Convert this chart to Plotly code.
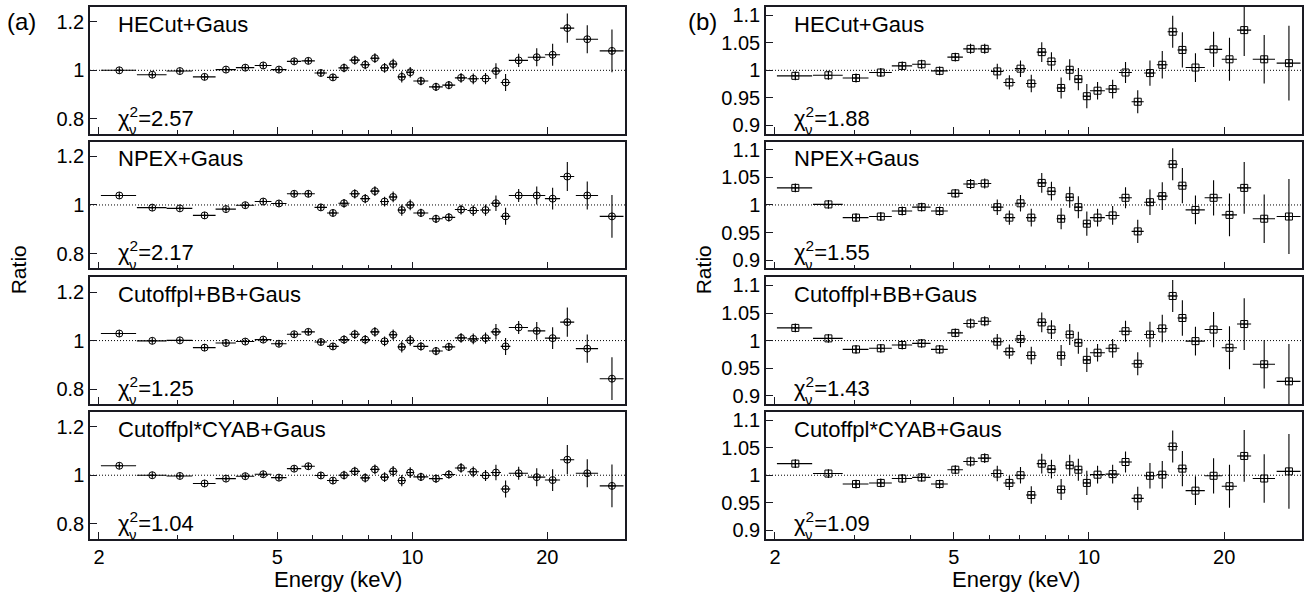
import math
import plotly.graph_objects as go
from plotly.subplots import make_subplots

# ---- data -------------------------------------------------------------
# energy bin centres and half widths (keV)
energy = [2.22, 2.63, 3.03, 3.44, 3.84, 4.24, 4.65, 5.04, 5.45, 5.86,
          6.25, 6.65, 7.04, 7.44, 7.85, 8.25, 8.67, 9.06, 9.47, 9.89,
          10.45, 11.29, 12.06, 12.84, 13.67, 14.56, 15.36, 16.14, 17.26, 18.94,
          20.55, 22.16, 24.55, 27.87]
energy_hw = [0.2, 0.2, 0.2, 0.2, 0.2, 0.2, 0.2, 0.2, 0.2, 0.2,
             0.2, 0.2, 0.2, 0.2, 0.2, 0.2, 0.2, 0.2, 0.2, 0.2,
             0.4, 0.4, 0.4, 0.4, 0.4, 0.4, 0.4, 0.4, 0.85, 0.85,
             0.8, 0.8, 1.4, 1.7]

# 1-sigma ratio uncertainties, panel (a) and panel (b)
err_a = [0.006, 0.006, 0.006, 0.007, 0.007, 0.008, 0.008, 0.009, 0.010, 0.011,
         0.012, 0.013, 0.018, 0.019, 0.019, 0.020, 0.020, 0.022, 0.023, 0.022,
         0.017, 0.017, 0.017, 0.020, 0.022, 0.023, 0.032, 0.035, 0.027, 0.037,
         0.045, 0.060, 0.058, 0.088]
err_b = [0.008, 0.008, 0.008, 0.008, 0.008, 0.008, 0.008, 0.008, 0.009, 0.009,
         0.014, 0.013, 0.015, 0.016, 0.018, 0.017, 0.019, 0.019, 0.020, 0.022,
         0.016, 0.017, 0.019, 0.021, 0.023, 0.025, 0.029, 0.032, 0.026, 0.032,
         0.039, 0.047, 0.044, 0.068]

# data/model ratios, panel (a)
ratio_a_hecut = [1.000, 0.982, 0.997, 0.973, 1.003, 1.011, 1.020, 1.003, 1.037, 1.039,
                 0.989, 0.971, 1.010, 1.042, 1.023, 1.050, 1.010, 1.026, 0.973, 0.992,
                 0.956, 0.932, 0.939, 0.969, 0.965, 0.966, 0.997, 0.950, 1.041, 1.054,
                 1.064, 1.174, 1.128, 1.080]
ratio_a_npex = [1.039, 0.989, 0.986, 0.957, 0.983, 0.999, 1.014, 1.006, 1.046, 1.046,
                0.990, 0.967, 1.007, 1.046, 1.026, 1.057, 1.014, 1.033, 0.979, 1.000,
                0.967, 0.943, 0.949, 0.981, 0.977, 0.979, 1.007, 0.953, 1.039, 1.039,
                1.026, 1.117, 1.039, 0.953]
ratio_a_bb = [1.029, 0.999, 1.001, 0.971, 0.990, 0.996, 1.004, 0.987, 1.026, 1.036,
              0.994, 0.976, 1.004, 1.026, 1.004, 1.036, 0.997, 1.024, 0.974, 1.001,
              0.976, 0.957, 0.974, 1.011, 1.007, 1.010, 1.036, 0.976, 1.054, 1.040,
              1.010, 1.076, 0.967, 0.843]
ratio_a_cyab = [1.039, 1.000, 0.997, 0.966, 0.986, 0.996, 1.004, 0.990, 1.027, 1.037,
                0.999, 0.978, 1.000, 1.016, 0.989, 1.024, 0.992, 1.016, 0.978, 1.011,
                0.993, 0.986, 1.003, 1.030, 1.014, 0.999, 1.011, 0.943, 1.008, 0.992,
                0.980, 1.064, 1.008, 0.956]

# data/model ratios, panel (b)
ratio_b_hecut = [0.990, 0.991, 0.986, 0.996, 1.008, 1.011, 0.999, 1.024, 1.039, 1.039,
                 0.998, 0.978, 1.003, 0.976, 1.033, 1.016, 0.968, 1.001, 0.984, 0.953,
                 0.963, 0.966, 0.996, 0.943, 0.995, 1.010, 1.070, 1.037, 1.005, 1.038,
                 1.020, 1.073, 1.020, 1.013]
ratio_b_npex = [1.031, 1.001, 0.977, 0.979, 0.989, 0.996, 0.989, 1.021, 1.038, 1.039,
                0.996, 0.977, 1.003, 0.977, 1.040, 1.025, 0.975, 1.014, 0.996, 0.966,
                0.977, 0.981, 1.013, 0.952, 1.005, 1.016, 1.074, 1.035, 0.991, 1.013,
                0.982, 1.031, 0.975, 0.979]
ratio_b_bb = [1.023, 1.004, 0.984, 0.986, 0.992, 0.995, 0.984, 1.014, 1.031, 1.035,
              0.998, 0.980, 1.003, 0.973, 1.033, 1.020, 0.973, 1.011, 0.996, 0.965,
              0.978, 0.986, 1.017, 0.958, 1.011, 1.022, 1.081, 1.041, 0.999, 1.020,
              0.987, 1.030, 0.957, 0.926]
ratio_b_cyab = [1.021, 1.003, 0.984, 0.986, 0.994, 0.996, 0.984, 1.010, 1.025, 1.031,
                1.003, 0.986, 1.000, 0.964, 1.021, 1.011, 0.974, 1.018, 1.010, 0.986,
                1.001, 1.002, 1.024, 0.958, 0.999, 1.001, 1.052, 1.012, 0.972, 0.999,
                0.980, 1.035, 0.994, 1.007]

model_names = ["HECut+Gaus", "NPEX+Gaus", "Cutoffpl+BB+Gaus", "Cutoffpl*CYAB+Gaus"]
chi2_a = ["2.57", "2.17", "1.25", "1.04"]
chi2_b = ["1.88", "1.55", "1.43", "1.09"]

x_ticks = [2, 5, 10, 20]
x_minor = [3, 4, 6, 7, 8, 9]
y_ticks_a = [0.8, 1.0, 1.2]
y_text_a = ["0.8", "1", "1.2"]
y_ticks_b = [0.9, 0.95, 1.0, 1.05, 1.1]
y_text_b = ["0.9", "0.95", "1", "1.05", "1.1"]

# ---- layout geometry (pixels) -----------------------------------------
W, H = 1315, 599
FONT = "Liberation Sans, Arial, Helvetica, sans-serif"
col_px = [(90, 625), (766, 1302)]
row_top = [4, 140, 277, 413]
panel_h = 128
x_range = [math.log10(1.91), math.log10(29.8)]
y_range_a = [0.739, 1.261]
y_range_b = [0.885, 1.115]

columns = [
    dict(ratios=[ratio_a_hecut, ratio_a_npex, ratio_a_bb, ratio_a_cyab],
         err=err_a, chi=chi2_a, symbol="circle-cross-open",
         yr=y_range_a, yt=y_ticks_a, ytt=y_text_a),
    dict(ratios=[ratio_b_hecut, ratio_b_npex, ratio_b_bb, ratio_b_cyab],
         err=err_b, chi=chi2_b, symbol="square-cross-open",
         yr=y_range_b, yt=y_ticks_b, ytt=y_text_b),
]

fig = make_subplots(rows=4, cols=2)
FRAME = "#1a1a22"

for r in range(4):
    for c in range(2):
        n = r * 2 + c + 1
        col = columns[c]
        fig.add_trace(go.Scatter(
            x=energy, y=col["ratios"][r], mode="markers",
            marker=dict(symbol=col["symbol"], size=7, color="black",
                        line=dict(width=1, color="black")),
            error_x=dict(type="data", array=energy_hw, width=0,
                         thickness=1.1, color="black"),
            error_y=dict(type="data", array=col["err"], width=0,
                         thickness=1.1, color="black"),
            showlegend=False, hoverinfo="skip"), row=r + 1, col=c + 1)

        x0, x1 = col_px[c]
        y_top = row_top[r]
        xa = "xaxis" if n == 1 else f"xaxis{n}"
        ya = "yaxis" if n == 1 else f"yaxis{n}"
        fig.layout[xa].update(
            domain=[x0 / W, x1 / W], type="log", range=x_range,
            tickmode="array", tickvals=x_ticks, ticktext=[str(v) for v in x_ticks],
            ticks="inside", ticklen=7, tickwidth=1, tickcolor=FRAME,
            minor=dict(tickmode="array", tickvals=x_minor, ticks="inside",
                       ticklen=4, tickwidth=1, tickcolor=FRAME, showgrid=False),
            showticklabels=(r == 3), showline=True, mirror=True,
            linecolor=FRAME, linewidth=1.5, showgrid=False, zeroline=False,
            tickfont=dict(family=FONT, size=20, color="black"))
        fig.layout[ya].update(
            domain=[1 - (y_top + panel_h) / H, 1 - y_top / H], range=col["yr"],
            tickmode="array", tickvals=col["yt"], ticktext=col["ytt"],
            ticks="inside", ticklen=7, tickwidth=1, tickcolor=FRAME,
            showline=True, mirror=True, linecolor=FRAME, linewidth=1.5,
            showgrid=False, zeroline=False,
            tickfont=dict(family=FONT, size=20, color="black"))

        # unity reference line
        fig.add_shape(type="line", xref=f"x{n} domain" if n > 1 else "x domain",
                      yref=f"y{n}" if n > 1 else "y",
                      x0=0, x1=1, y0=1, y1=1, layer="below",
                      line=dict(color="black", width=1, dash="1px,2px"))

        # model name and reduced chi-square
        fig.add_annotation(text=model_names[r], xref="paper", yref="paper",
                           x=(x0 + 26) / W, y=1 - (y_top + 17.5) / H,
                           xanchor="left", yanchor="middle", showarrow=False,
                           font=dict(family=FONT, size=22, color="black"))
        fig.add_annotation(text=f"χ<sup>2</sup>={col['chi'][r]}",
                           xref="paper", yref="paper",
                           x=(x0 + 26) / W, y=1 - (y_top + 111) / H,
                           xanchor="left", yanchor="middle", showarrow=False,
                           font=dict(family=FONT, size=22, color="black"))
        fig.add_annotation(text="ν", xref="paper", yref="paper",
                           x=(x0 + 37) / W, y=1 - (y_top + 124) / H,
                           xanchor="left", yanchor="middle", showarrow=False,
                           font=dict(family=FONT, size=15, color="black"))

# panel letters, axis titles
for label, xc in [("(a)", 21), ("(b)", 702)]:
    fig.add_annotation(text=label, xref="paper", yref="paper",
                       x=xc / W, y=1 - 19 / H, xanchor="center", yanchor="middle",
                       showarrow=False, font=dict(family=FONT, size=24, color="black"))
for xc in [18, 703]:
    fig.add_annotation(text="Ratio", xref="paper", yref="paper", textangle=-90,
                       x=xc / W, y=1 - 270 / H, xanchor="center", yanchor="middle",
                       showarrow=False, font=dict(family=FONT, size=21, color="black"))
for xc in [338, 1016]:
    fig.add_annotation(text="Energy (keV)", xref="paper", yref="paper",
                       x=xc / W, y=1 - 582 / H, xanchor="center", yanchor="middle",
                       showarrow=False, font=dict(family=FONT, size=22, color="black"))

fig.update_layout(width=W, height=H, margin=dict(l=0, r=0, t=0, b=0),
                  paper_bgcolor="white", plot_bgcolor="white",
                  font=dict(family=FONT, color="black"))

fig.write_html("out.html")
